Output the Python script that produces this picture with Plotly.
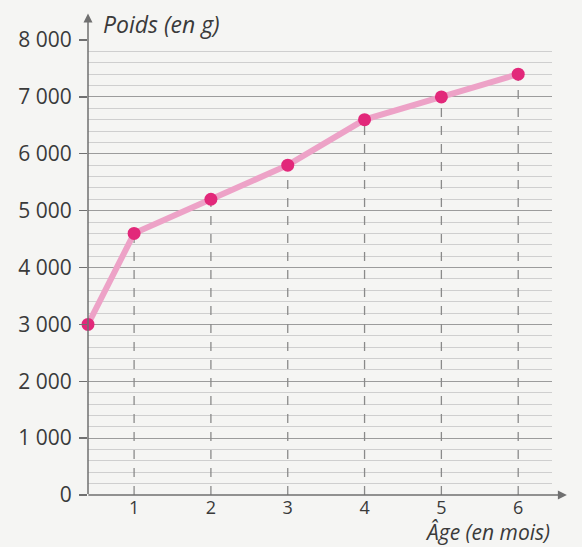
import plotly.graph_objects as go

# Data
ages = [0.4, 1, 2, 3, 4, 5, 6]          # first point sits on the vertical axis
weights = [3000, 4600, 5200, 5800, 6600, 7000, 7400]
x_ticks = [1, 2, 3, 4, 5, 6]
x_ticktext = ["1", "2", "3", "4", "5", "6"]
y_ticks = [0, 1000, 2000, 3000, 4000, 5000, 6000, 7000, 8000]
y_ticktext = ["0", "1 000", "2 000", "3 000", "4 000", "5 000", "6 000", "7 000", "8 000"]

FONT = "Open Sans"
TXT = "#3a3a3a"
AX = "#707070"
BG = "#f5f5f3"

fig = go.Figure()

# dashed verticals from axis up to each point (integer ages)
vx, vy = [], []
for a, w in zip(ages, weights):
    if a in x_ticks:
        vx += [a, a, None]
        vy += [0, w, None]
fig.add_trace(go.Scatter(x=vx, y=vy, mode="lines",
                         line=dict(color="#8a8a8a", width=1.3, dash="dash"),
                         hoverinfo="skip", showlegend=False))

fig.add_trace(go.Scatter(x=ages, y=weights, mode="lines+markers",
                         line=dict(color="#eda2c7", width=6),
                         marker=dict(color="#e2287a", size=13),
                         cliponaxis=False, showlegend=False))

fig.update_layout(
    width=582, height=547,
    margin=dict(l=88, r=30, t=40, b=52),
    paper_bgcolor=BG, plot_bgcolor=BG,
    font=dict(family=FONT, color=TXT, size=21),
    xaxis=dict(range=[0.40, 6.44], tickvals=x_ticks, ticktext=x_ticktext,
               showgrid=False, zeroline=False, showline=False, ticks="",
               tickfont=dict(size=18), ticklabelstandoff=0, fixedrange=True),
    yaxis=dict(range=[0, 8000], tickvals=y_ticks, ticktext=y_ticktext,
               showgrid=True, gridcolor="#9c9c9c", gridwidth=1.2,
               zeroline=False, showline=False,
               ticks="outside", ticklen=8, tickcolor=AX, tickwidth=1.3,
               ticklabelstandoff=3, tickfont=dict(size=21),
               minor=dict(dtick=200, showgrid=True, gridcolor="#cfcfcf", gridwidth=1),
               fixedrange=True),
    annotations=[
        # x axis with arrow
        dict(xref="paper", yref="paper", x=1.032, y=0, ax=-480, ay=0,
             axref="pixel", ayref="pixel", showarrow=True, arrowhead=2,
             arrowsize=1.2, arrowwidth=1.5, arrowcolor=AX, text=""),
        # y axis with arrow
        dict(xref="paper", yref="paper", x=0, y=1.058, ax=0, ay=482,
             axref="pixel", ayref="pixel", showarrow=True, arrowhead=2,
             arrowsize=1.2, arrowwidth=1.5, arrowcolor=AX, text=""),
        dict(xref="paper", yref="paper", x=0.028, y=1.036, xanchor="left",
             yanchor="middle", showarrow=False,
             text="<i>Poids (en g)</i>", font=dict(size=23, color=TXT)),
        dict(xref="paper", yref="paper", x=1.0, y=-0.081, xanchor="right",
             yanchor="middle", showarrow=False,
             text="<i>Âge (en mois)</i>", font=dict(size=21, color=TXT)),
    ],
)

fig.write_html(
    "out.html",
    config={"displayModeBar": False, "staticPlot": True},
    post_script="document.body.style.margin='0';document.body.style.background='%s';" % BG,
)
